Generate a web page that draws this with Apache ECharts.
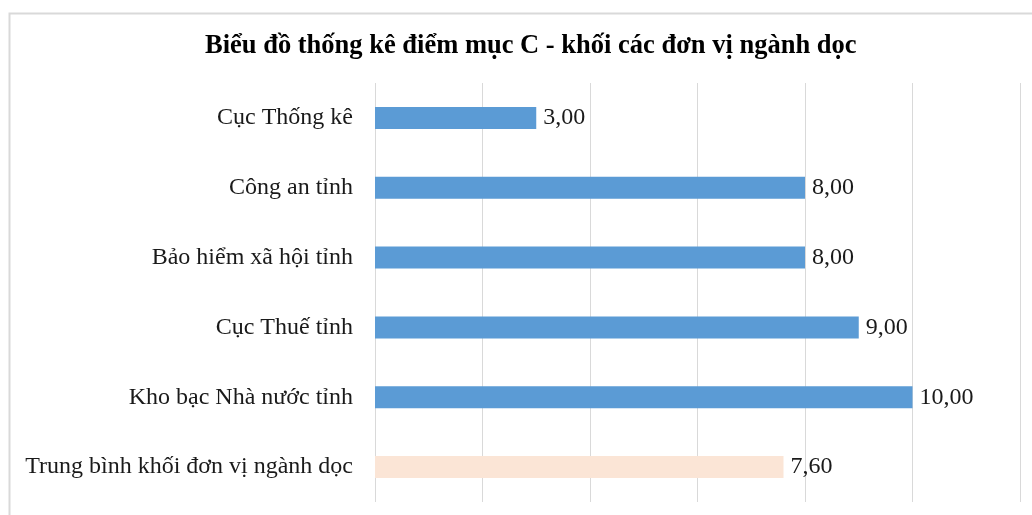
<!DOCTYPE html>
<html>
<head>
    <meta charset="utf-8">
    <title>Biểu đồ thống kê điểm mục C</title>
    <script src="https://cdn.jsdelivr.net/npm/echarts@6/dist/echarts.min.js"></script>
    <style>
        html, body { margin: 0; padding: 0; background: #fff; }
    </style>
</head>
<body>
<div id="main" style="width: 1032px;height:515px;"></div>
<script type="text/javascript">
    // du lieu doc tu hinh
    var categories = ['Cục Thống kê', 'Công an tỉnh', 'Bảo hiểm xã hội tỉnh', 'Cục Thuế tỉnh', 'Kho bạc Nhà nước tỉnh', 'Trung bình khối đơn vị ngành dọc'];
    var scores = [3.00, 8.00, 8.00, 9.00, 10.00, 7.60];
    var axisMax = 12;
    var axisStep = 2;

    var serif = '"Liberation Serif", "Times New Roman", serif';

    function fmt(v) {
        return v.toFixed(2).replace('.', ',');
    }

    var myChart = echarts.init(document.getElementById('main'));
    var option = {
        animation: false,
        backgroundColor: '#fff',
        title: {
            text: 'Biểu đồ thống kê điểm mục C - khối các đơn vị ngành dọc',
            left: 200,
            top: 28,
            textStyle: {
                fontFamily: serif,
                fontWeight: 'bold',
                fontSize: 26.5,
                color: '#000'
            }
        },
        graphic: [{
            type: 'rect',
            left: 7,
            top: 11,
            shape: { width: 1100, height: 600 },
            style: { fill: 'none', stroke: '#d9d9d9', lineWidth: 2 },
            silent: true
        }],
        grid: {
            left: 375,
            right: 12,
            top: 83,
            bottom: 13
        },
        xAxis: {
            type: 'value',
            min: 0,
            max: axisMax,
            interval: axisStep,
            axisLabel: { show: false },
            axisLine: { show: false },
            axisTick: { show: false },
            splitLine: { lineStyle: { color: '#d9d9d9', width: 1 } }
        },
        yAxis: {
            type: 'category',
            inverse: true,
            data: categories,
            axisLine: { show: false },
            axisTick: { show: false },
            axisLabel: {
                margin: 22,
                fontFamily: serif,
                fontSize: 24,
                color: '#1a1a1a'
            }
        },
        series: [{
            type: 'bar',
            data: scores,
            barWidth: 22,
            itemStyle: {
                color: function (p) {
                    return p.dataIndex === categories.length - 1 ? '#fbe5d6' : '#5b9bd5';
                }
            },
            label: {
                show: true,
                position: 'right',
                distance: 7,
                fontFamily: serif,
                fontSize: 24,
                color: '#1a1a1a',
                formatter: function (p) { return fmt(p.value); }
            }
        }]
    };
    myChart.setOption(option);
</script>
</body>
</html>
